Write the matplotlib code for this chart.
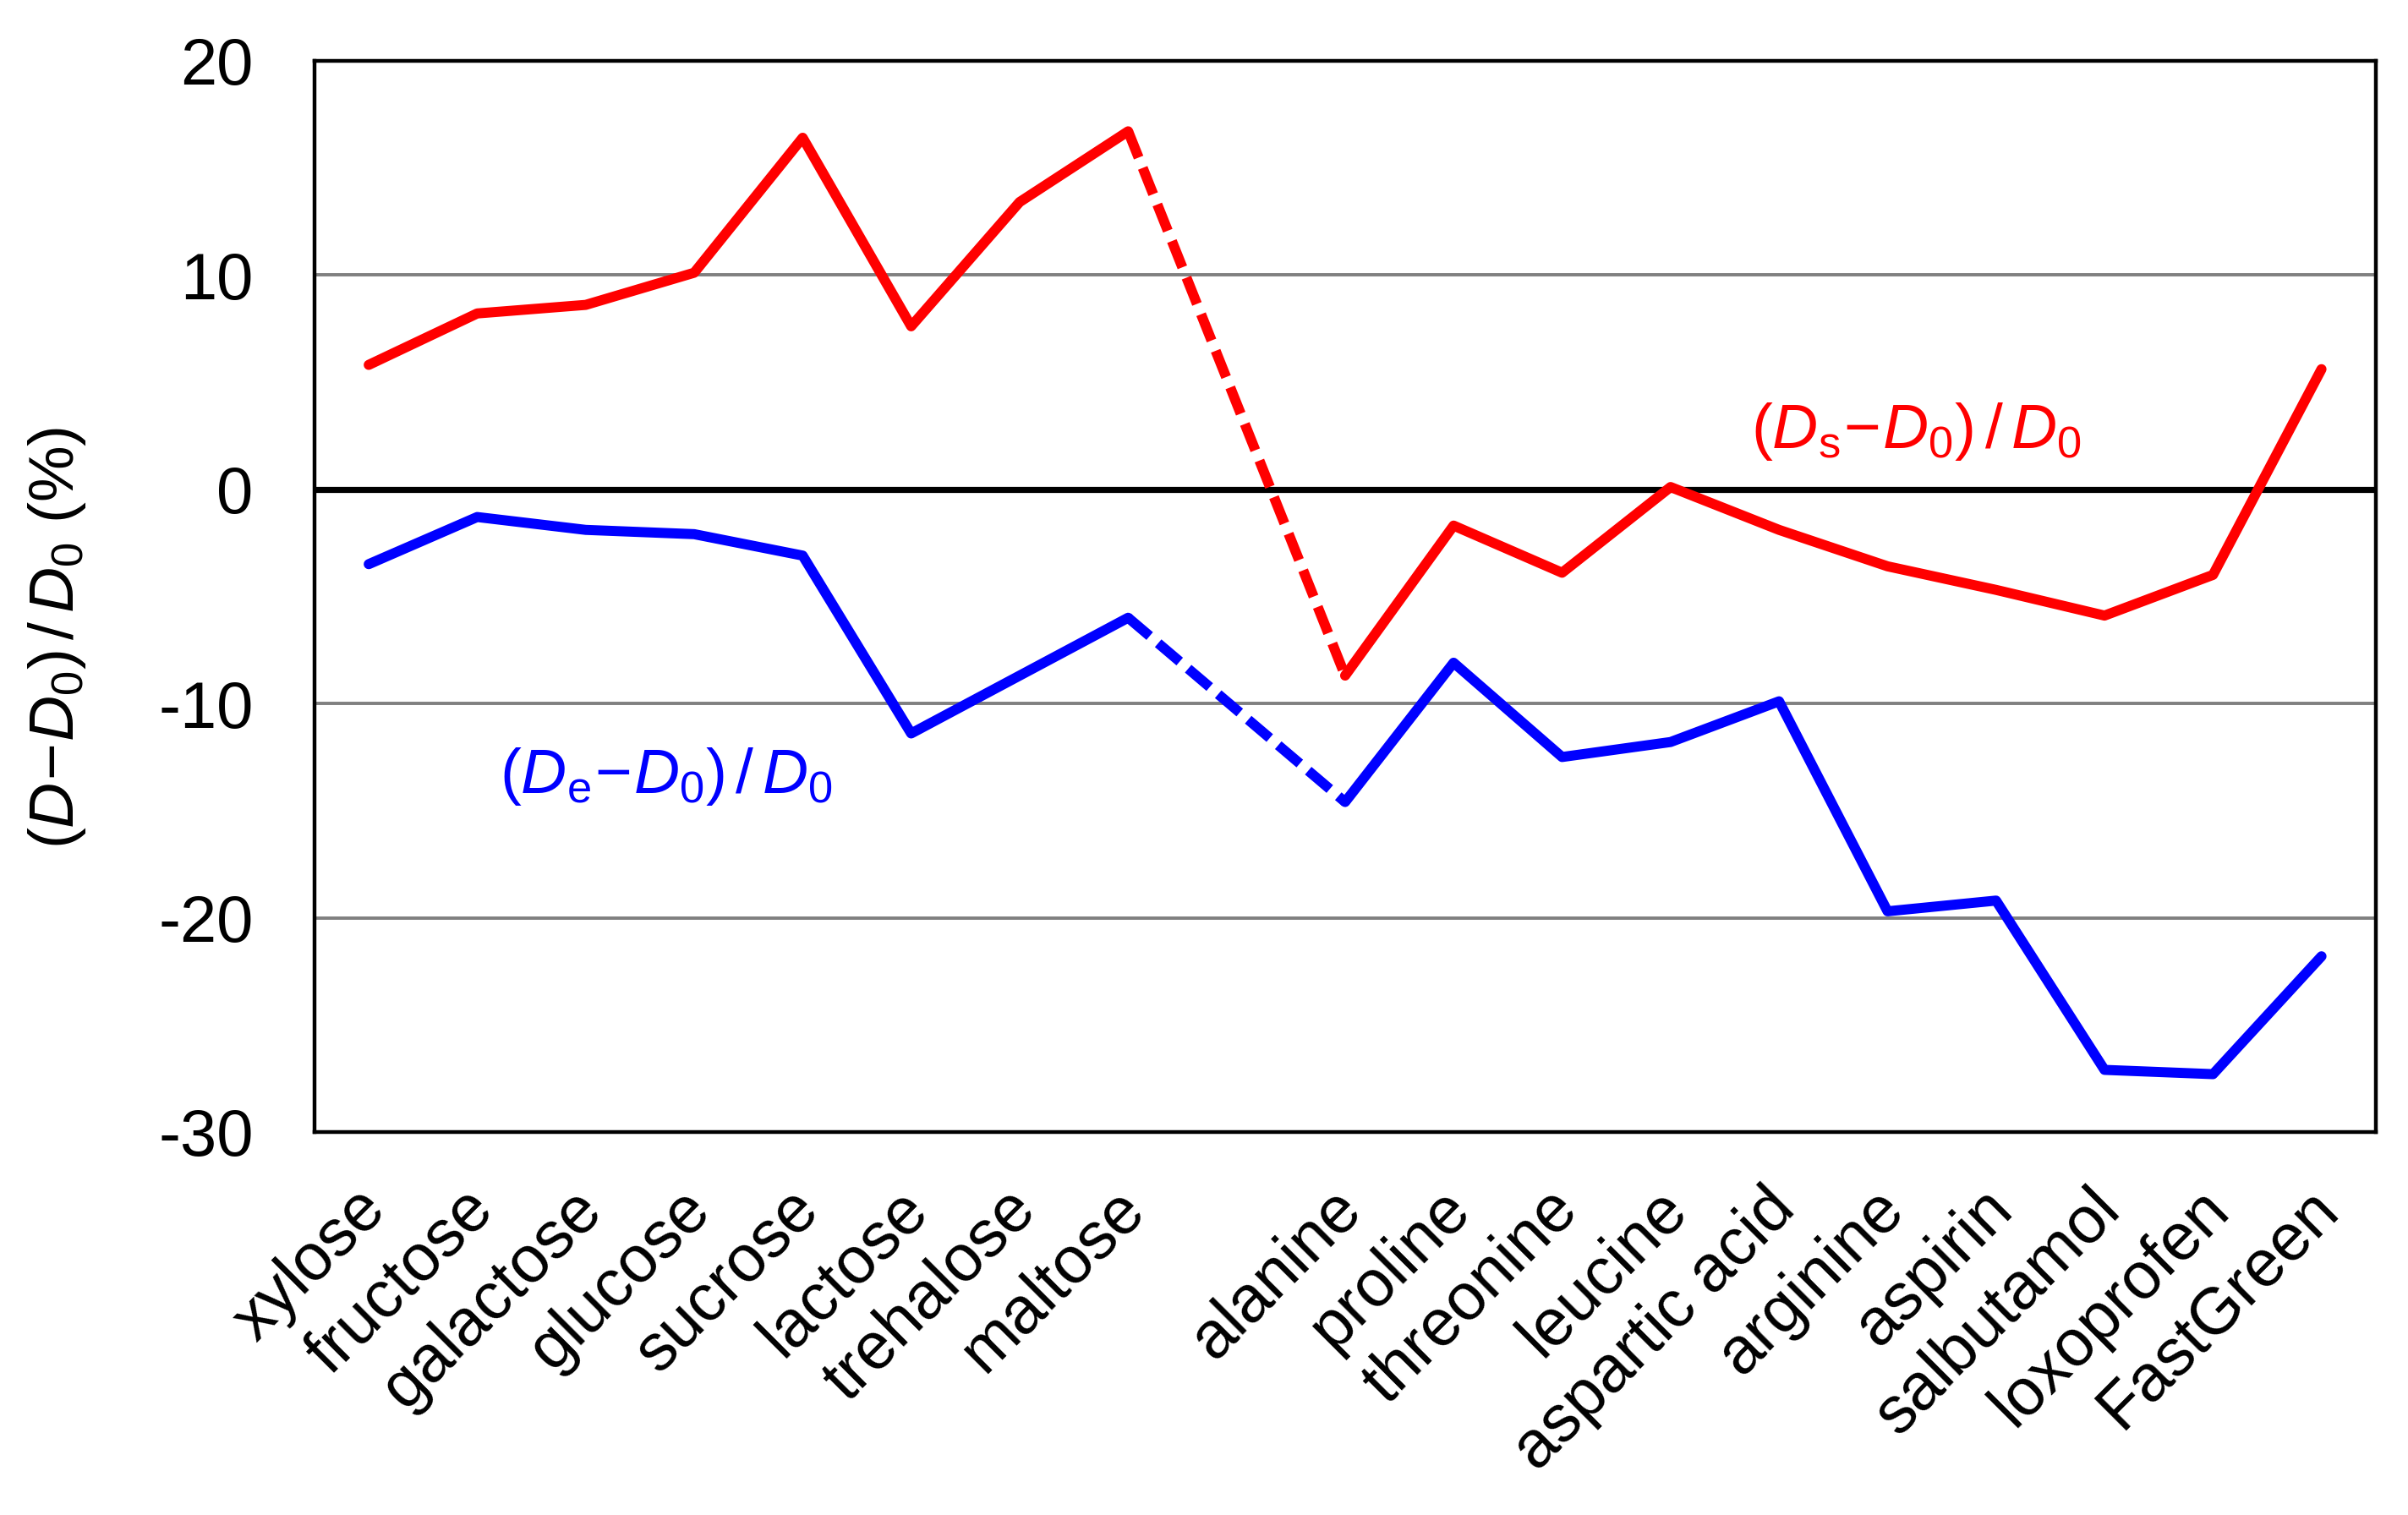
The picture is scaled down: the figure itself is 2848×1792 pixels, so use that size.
import numpy as np
import matplotlib.pyplot as plt
import matplotlib.transforms as mtransforms

plt.rcParams['font.family'] = ['Liberation Sans', 'DejaVu Sans']
plt.rcParams['mathtext.fontset'] = 'custom'
plt.rcParams['mathtext.rm'] = 'Liberation Sans'
plt.rcParams['mathtext.it'] = 'Liberation Sans:italic'

# sugars first, then a blank slot, then the rest
sugars = ['xylose', 'fructose', 'galactose', 'glucose', 'sucrose', 'lactose',
          'trehalose', 'maltose']
others = ['alanine', 'proline', 'threonine', 'leucine', 'aspartic acid',
          'arginine', 'aspirin', 'salbutamol', 'loxoprofen', 'FastGreen']

ds_sugars = [5.8, 8.2, 8.6, 10.1, 16.4, 7.6, 13.4, 16.7]
ds_others = [-8.7, -1.7, -3.9, 0.1, -1.9, -3.6, -4.7, -5.9, -4.0, 5.6]

de_sugars = [-3.5, -1.3, -1.9, -2.1, -3.1, -11.4, -8.7, -6.0]
de_others = [-14.6, -8.1, -12.5, -11.8, -9.9, -19.7, -19.2, -27.1, -27.3, -21.8]

x1 = np.arange(len(sugars))
x2 = np.arange(len(others)) + len(sugars) + 1

fig = plt.figure(figsize=(14.24, 8.96), dpi=200)
ax = fig.add_axes([0.1306, 0.2528, 0.856, 0.7072])

lw = 4.3
for col, a, b in [('#ff0000', ds_sugars, ds_others), ('#0000ff', de_sugars, de_others)]:
    ax.plot(x1, a, color=col, lw=lw, solid_capstyle='round', solid_joinstyle='round', zorder=4)
    ax.plot(x2, b, color=col, lw=lw, solid_capstyle='round', solid_joinstyle='round', zorder=4)
    ln, = ax.plot([x1[-1], x2[0]], [a[-1], b[0]], color=col, lw=lw, ls='--', zorder=4)
    ln.set_dashes([2.8, 1.1])

ax.set_xlim(-0.5, len(sugars) + len(others) + 0.5)
ax.set_ylim(-30, 20)
ax.set_yticks([-30, -20, -10, 0, 10, 20])
ax.set_yticklabels(['-30', '-20', '-10', '0', '10', '20'])
for yv in [-20, -10, 10]:
    ax.axhline(yv, color='#808080', lw=1.4, zorder=1)
ax.axhline(0, color='black', lw=2.6, zorder=2)

ax.set_xticks(np.concatenate([x1, x2]))
ax.set_xticklabels(sugars + others, rotation=45, ha='right', rotation_mode='anchor',
                   fontsize=28)
ax.tick_params(axis='x', length=0, pad=16)
ax.tick_params(axis='y', length=0, pad=26, labelsize=28)
shift = mtransforms.ScaledTranslation(-6.5 / 72, -3.3 / 72, fig.dpi_scale_trans)
for lab in ax.get_xticklabels():
    lab.set_transform(lab.get_transform() + shift)
for s in ax.spines.values():
    s.set_linewidth(1.6)

ax.set_ylabel(r'$(\mathit{D}\!-\!\mathit{D}_0)\,/\,\mathit{D}_0$ (%)', fontsize=27)
ax.yaxis.set_label_coords(-0.110, 0.461)

ax.text(12.74, 2.7, r'$(\mathit{D}_\mathrm{s}\!-\!\mathit{D}_0)\,/\,\mathit{D}_0$',
        color='#ff0000', fontsize=27, va='center', ha='left')
ax.text(1.21, -13.4, r'$(\mathit{D}_\mathrm{e}\!-\!\mathit{D}_0)\,/\,\mathit{D}_0$',
        color='#0000ff', fontsize=27, va='center', ha='left')

fig.savefig('out.png', dpi=200)
